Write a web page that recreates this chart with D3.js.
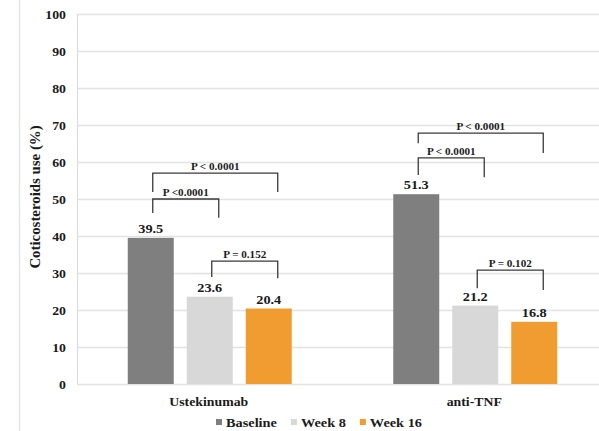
<!DOCTYPE html>
<html>
<head>
<meta charset="utf-8">
<script src="https://cdn.jsdelivr.net/npm/d3@7/dist/d3.min.js"></script>
<style>
  html, body { margin: 0; padding: 0; background: #fff; }
  svg { display: block; }
</style>
</head>
<body>
<svg id="chart" width="599" height="431"></svg>
<script>
// Treatment groups and time points
const categories = ["Ustekinumab", "anti-TNF"];
const seriesNames = ["Baseline", "Week 8", "Week 16"];
const seriesColors = ["#7f7f7f", "#d8d8d8", "#f09c30"];

// Corticosteroid use (%) per group, in series order
const baselineValues = [39.5, 51.3];
const week8Values = [23.6, 21.2];
const week16Values = [20.4, 16.8];

const yTicks = [0, 10, 20, 30, 40, 50, 60, 70, 80, 90, 100];

// Significance brackets: group, compared series, p-value text, bracket level and leg ends (%)
const bracketGroups = ["Ustekinumab", "Ustekinumab", "Ustekinumab", "anti-TNF", "anti-TNF", "anti-TNF"];
const bracketFrom = [0, 0, 1, 0, 0, 1];
const bracketTo = [1, 2, 2, 2, 1, 2];
const bracketLabels = ["P <0.0001", "P < 0.0001", "P = 0.152", "P < 0.0001", "P < 0.0001", "P = 0.102"];
const bracketTop = [50.0, 57.0, 33.2, 67.8, 61.1, 30.8];
const bracketLegFrom = [46.2, 51.9, 28.9, 65.1, 56.5, 25.9];
const bracketLegTo = [44.9, 51.9, 28.6, 62.4, 55.9, 25.4];

const seriesValues = [baselineValues, week8Values, week16Values];
const rows = categories.map((c, i) => ({
  category: c,
  values: seriesNames.map((s, j) => ({ series: s, idx: j, value: seriesValues[j][i] }))
}));

// Pick a Times-like serif face that is actually installed
const ctx = document.createElement("canvas").getContext("2d");
function measure(family, str, size) {
  ctx.font = `bold ${size}px ${family}`;
  return ctx.measureText(str).width;
}
const probe = "Ustekinumab 0123456789 Wwil";
const baseW = measure("monospace", probe, 40);
const candidates = ["Liberation Serif", "Tinos", "Times New Roman", "Times", "Nimbus Roman", "FreeSerif", "DejaVu Serif"];
let FONT = "serif";
for (const c of candidates) {
  if (Math.abs(measure(`"${c}", monospace`, probe, 40) - baseW) > 0.5) { FONT = `"${c}"`; break; }
}
// Horizontal stretch so that the category label spans its intended width
const SX = 79 / measure(FONT, "Ustekinumab", 13);

const svg = d3.select("#chart");
const plot = { left: 77, right: 608, top: 14, bottom: 384 };

const y = d3.scaleLinear().domain([0, 100]).range([plot.bottom, plot.top]);
const x0 = d3.scaleBand().domain(categories).range([plot.left, plot.right]).padding(0);
const groupWidth = 164;
const x1 = d3.scaleBand().domain(d3.range(seriesNames.length))
  .range([(x0.bandwidth() - groupWidth) / 2, (x0.bandwidth() + groupWidth) / 2])
  .paddingInner(13 / 59).paddingOuter(0);

function styleText(sel, size) {
  return sel.attr("font-family", FONT).attr("font-weight", "bold")
    .attr("font-size", size).attr("fill", "#1a1a1a");
}
function place(sel, tx, ty, rotate) {
  return sel.attr("transform", (d, i) => {
    const px = typeof tx === "function" ? tx(d, i) : tx;
    const py = typeof ty === "function" ? ty(d, i) : ty;
    return `translate(${px},${py})` + (rotate ? ` rotate(${rotate})` : "") + ` scale(${SX},1)`;
  });
}

// Outer frame line on the left
svg.append("line")
  .attr("x1", 19.5).attr("x2", 19.5).attr("y1", 0).attr("y2", 431)
  .attr("stroke", "#e6e6e6").attr("stroke-width", 1.5);

// Horizontal gridlines
svg.append("g").selectAll("line").data(yTicks).join("line")
  .attr("x1", plot.left).attr("x2", 599)
  .attr("y1", d => Math.round(y(d)) + 0.5).attr("y2", d => Math.round(y(d)) + 0.5)
  .attr("stroke", "#e3e3e3").attr("stroke-width", 1.5);

// Y axis line
svg.append("line")
  .attr("x1", plot.left + 0.5).attr("x2", plot.left + 0.5)
  .attr("y1", plot.top).attr("y2", plot.bottom)
  .attr("stroke", "#dcdcdc").attr("stroke-width", 1.2);

// Y tick labels via d3 axis
const yAxis = d3.axisLeft(y).tickValues(yTicks).tickSize(0).tickPadding(11);
const gy = svg.append("g").attr("transform", `translate(${plot.left},0)`).call(yAxis);
gy.select(".domain").remove();
styleText(gy.selectAll(".tick text"), 13)
  .attr("dy", "0.35em")
  .attr("x", null)
  .attr("transform", `translate(-11,0) scale(${SX},1)`);

// Y axis title (rotated, so the stretch runs along the text)
styleText(place(svg.append("text").datum(0), 35, (plot.top + plot.bottom) / 2 - 2, -90), 14)
  .attr("text-anchor", "middle")
  .attr("dy", "0.35em")
  .text("Coticosteroids use (%)");

// Bars
const groups = svg.append("g").selectAll("g").data(rows).join("g")
  .attr("transform", d => `translate(${x0(d.category)},0)`);

groups.selectAll("rect").data(d => d.values).join("rect")
  .attr("x", d => x1(d.idx))
  .attr("width", x1.bandwidth())
  .attr("y", d => y(d.value))
  .attr("height", d => y(0) - y(d.value))
  .attr("fill", d => seriesColors[d.idx]);

// Value labels
groups.each(function (row) {
  const g = d3.select(this);
  styleText(place(g.selectAll("text.val").data(row.values).join("text").attr("class", "val"),
      d => x1(d.idx) + x1.bandwidth() / 2, d => y(d.value) - 5), 13.5)
    .attr("text-anchor", "middle")
    .text(d => d.value.toFixed(1));
});

// Significance brackets
const barCenter = (g, s) => x0(g) + x1(s) + x1.bandwidth() / 2;
const brackets = bracketLabels.map((label, i) => ({
  label,
  xa: barCenter(bracketGroups[i], bracketFrom[i]) + 2,
  xb: barCenter(bracketGroups[i], bracketTo[i]) + 9,
  top: y(bracketTop[i]),
  legA: y(bracketLegFrom[i]),
  legB: y(bracketLegTo[i])
}));

const bg = svg.append("g");
bg.selectAll("path").data(brackets).join("path")
  .attr("d", d => `M${d.xa},${d.legA}V${d.top}H${d.xb}V${d.legB}`)
  .attr("fill", "none")
  .attr("stroke", "#3a3a3a")
  .attr("stroke-width", 1.3);

styleText(place(bg.selectAll("text").data(brackets).join("text"),
    d => (d.xa + d.xb) / 2, d => d.top - 3), 10.5)
  .attr("text-anchor", "middle")
  .text(d => d.label);

// Category labels
styleText(place(svg.append("g").selectAll("text").data(categories).join("text"),
    d => x0(d) + x0.bandwidth() / 2 - 1, 406), 13)
  .attr("text-anchor", "middle")
  .text(d => d);

// Legend
const legend = svg.append("g").attr("transform", "translate(216,422)");
let lx = 0;
seriesNames.forEach((name, i) => {
  legend.append("rect")
    .attr("x", lx).attr("y", -3).attr("width", 6).attr("height", 6)
    .attr("fill", seriesColors[i]);
  const t = styleText(legend.append("text"), 13.5)
    .attr("transform", `translate(${lx + 10},0) scale(${SX},1)`)
    .attr("dy", "0.35em")
    .text(name);
  lx += 10 + t.node().getComputedTextLength() * SX + 14;
});
</script>
</body>
</html>
